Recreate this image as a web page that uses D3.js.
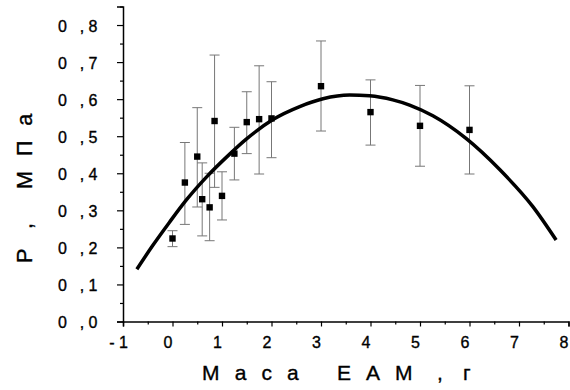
<!DOCTYPE html>
<html>
<head>
<meta charset="utf-8">
<script src="https://cdn.jsdelivr.net/npm/d3@7"></script>
<style>
  html, body { margin: 0; padding: 0; background: #fff; }
  svg { display: block; }
  text { font-family: "Liberation Sans", Arial, sans-serif; fill: #000; stroke: #000; stroke-width: 0.35px; }
</style>
</head>
<body>
<svg id="chart" width="570" height="390"></svg>
<script>
// ---- data ----
const massX   = [0, 0.25, 0.5, 0.6, 0.75, 0.85, 1.0, 1.25, 1.5, 1.75, 2, 3, 4, 5, 6];
const pressY  = [0.224, 0.375, 0.445, 0.330, 0.308, 0.541, 0.339, 0.453, 0.538, 0.546, 0.548, 0.635, 0.565, 0.528, 0.517];
const errTop  = [0.245, 0.483, 0.577, 0.428, 0.400, 0.719, 0.404, 0.524, 0.620, 0.690, 0.647, 0.757, 0.652, 0.637, 0.636];
const errBot  = [0.202, 0.262, 0.309, 0.231, 0.218, 0.362, 0.274, 0.382, 0.453, 0.398, 0.442, 0.514, 0.476, 0.419, 0.398];
const fitX    = [-0.72, -0.40, -0.06, 0.28, 0.68, 1.15, 1.49, 2.03, 2.57, 3.04, 3.58, 3.98, 4.45, 4.79, 5.26, 5.93, 6.61, 7.28, 7.75];
const fitY    = [0.141, 0.205, 0.268, 0.328, 0.389, 0.451, 0.492, 0.545, 0.580, 0.601, 0.611, 0.609, 0.598, 0.584, 0.555, 0.494, 0.410, 0.310, 0.220];
const xTicks  = [-1, 0, 1, 2, 3, 4, 5, 6, 7, 8];
const xTickLabels = ["- 1", "0", "1", "2", "3", "4", "5", "6", "7", "8"];
const yTicks  = [0, 0.1, 0.2, 0.3, 0.4, 0.5, 0.6, 0.7, 0.8];
const yTickLabels = ["0 ,0", "0 ,1", "0 ,2", "0 ,3", "0 ,4", "0 ,5", "0 ,6", "0 ,7", "0 ,8"];

const svg = d3.select("#chart");
const x = d3.scaleLinear().domain([-1, 8]).range([123, 568.5]);
const y = d3.scaleLinear().domain([0, 0.85]).range([321.5, 6.5]);

// ---- axes ----
const xMinor = d3.range(-1, 8.01, 0.5);
const yMinor = d3.range(0, 0.851, 0.05);

const xAxis = d3.axisBottom(x).tickValues(xMinor)
  .tickSize(5).tickFormat(() => "");
const gx = svg.append("g").attr("transform", `translate(0,${y(0)})`).call(xAxis);
gx.select(".domain").attr("stroke", "#000").attr("stroke-width", 1.5);
gx.selectAll(".tick line").attr("stroke", "#000").attr("stroke-width", 1.2)
  .attr("y2", d => Math.abs(d - Math.round(d)) < 1e-6 ? 5 : 3);

const yAxis = d3.axisLeft(y).tickValues(yMinor)
  .tickSize(6).tickFormat(() => "");
const gy = svg.append("g").attr("transform", `translate(${x(-1)},0)`).call(yAxis);
gy.select(".domain").attr("stroke", "#000").attr("stroke-width", 1.5);
gy.selectAll(".tick line").attr("stroke", "#000").attr("stroke-width", 1.2)
  .attr("x2", d => Math.abs(d * 10 - Math.round(d * 10)) < 1e-6 ? -6 : -3);

// tick labels
svg.append("g").selectAll("text").data(xTicks).join("text")
  .attr("x", d => x(d) - 4.5)
  .attr("y", 348)
  .attr("text-anchor", "middle")
  .attr("font-size", 16)
  .text((d, i) => xTickLabels[i]);

svg.append("g").selectAll("text").data(yTicks).join("text")
  .attr("x", 58)
  .attr("y", d => y(d) + 6.8)
  .attr("font-size", 16)
  .attr("letter-spacing", 4.2)
  .text((d, i) => yTickLabels[i]);

// axis titles
const xt = svg.append("text").attr("y", 380).attr("font-size", 21).attr("letter-spacing", 15);
xt.append("tspan").attr("x", 202).text("Маса");
xt.append("tspan").attr("x", 337).text("ЕАМ");
xt.append("tspan").attr("x", 437).attr("letter-spacing", 0).text(",");
xt.append("tspan").attr("x", 463).attr("letter-spacing", 0).text("г");

const yt = svg.append("text").attr("transform", "translate(31.5,263) rotate(-90)")
  .attr("font-size", 21.5);
yt.append("tspan").attr("x", 0).text("Р");
yt.append("tspan").attr("x", 34).text(",");
yt.append("tspan").attr("x", 74).attr("letter-spacing", 15).text("МПа");

// ---- error bars ----
const pts = massX.map((m, i) => ({ m, p: pressY[i], t: errTop[i], b: errBot[i] }));
const eb = svg.append("g").attr("stroke", "#777").attr("stroke-width", 1).attr("fill", "none");
eb.selectAll("line.v").data(pts).join("line").attr("class", "v")
  .attr("x1", d => x(d.m)).attr("x2", d => x(d.m))
  .attr("y1", d => y(d.t)).attr("y2", d => y(d.b));
eb.selectAll("line.t").data(pts).join("line").attr("class", "t")
  .attr("x1", d => x(d.m) - 5).attr("x2", d => x(d.m) + 5)
  .attr("y1", d => y(d.t)).attr("y2", d => y(d.t));
eb.selectAll("line.b").data(pts).join("line").attr("class", "b")
  .attr("x1", d => x(d.m) - 5).attr("x2", d => x(d.m) + 5)
  .attr("y1", d => y(d.b)).attr("y2", d => y(d.b));

// ---- fitted curve ----
const line = d3.line().x(d => x(d[0])).y(d => y(d[1])).curve(d3.curveMonotoneX);
svg.append("path").datum(fitX.map((v, i) => [v, fitY[i]]))
  .attr("d", line).attr("fill", "none").attr("stroke", "#000")
  .attr("stroke-width", 3.5).attr("stroke-linecap", "butt");

// ---- points ----
svg.append("g").selectAll("rect").data(pts).join("rect")
  .attr("x", d => x(d.m) - 3.2).attr("y", d => y(d.p) - 3.2)
  .attr("width", 6.4).attr("height", 6.4).attr("fill", "#000");
</script>
</body>
</html>
